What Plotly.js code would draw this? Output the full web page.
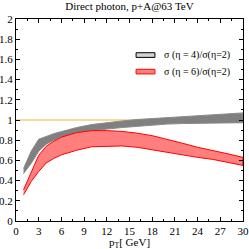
<!DOCTYPE html>
<html><head><meta charset="utf-8">
<script src="https://cdn.plot.ly/plotly-3.0.1.min.js"></script>
<style>html,body{margin:0;padding:0;background:#fff}</style>
</head><body><div id="c" style="width:249px;height:249px"></div>
<script>
const pt        = [1, 2, 3, 4, 5, 6, 8, 10, 12, 14, 16, 18, 20, 22, 24, 26, 28, 30];
const grayUpper = [0.52, 0.69, 0.81, 0.84, 0.865, 0.885, 0.925, 0.955, 0.975, 0.99, 1.005, 1.015, 1.025, 1.03, 1.04, 1.05, 1.06, 1.07];
const grayLower = [0.47, 0.57, 0.69, 0.76, 0.80, 0.83, 0.87, 0.89, 0.91, 0.925, 0.94, 0.95, 0.96, 0.965, 0.967, 0.97, 0.972, 0.973];
const redUpper  = [0.31, 0.48, 0.65, 0.74, 0.79, 0.83, 0.875, 0.895, 0.895, 0.887, 0.87, 0.845, 0.81, 0.77, 0.73, 0.70, 0.665, 0.63];
const redLower  = [0.26, 0.39, 0.49, 0.575, 0.62, 0.655, 0.70, 0.735, 0.742, 0.743, 0.73, 0.71, 0.685, 0.655, 0.63, 0.61, 0.58, 0.55];
const refX = [0, 30];
const refY = [1, 1];
const names = ['σ (η = 4)/σ(η=2)', 'σ (η = 6)/σ(η=2)'];
const xTicks = [0, 3, 6, 9, 12, 15, 18, 21, 24, 27, 30];
const yTicks = [0, 0.2, 0.4, 0.6, 0.8, 1, 1.2, 1.4, 1.6, 1.8, 2];

function band(up, lo) {
  return {x: pt.concat(pt.slice().reverse()), y: up.concat(lo.slice().reverse())};
}
const g = band(grayUpper, grayLower);
const r = band(redUpper, redLower);

const traces = [
  {x: refX, y: refY, mode: 'lines', line: {color: '#f5b041', width: 1}, showlegend: false, hoverinfo: 'skip'},
  {x: g.x, y: g.y, fill: 'toself', mode: 'lines', fillcolor: '#808080', line: {color: '#8a8a8a', width: 1}, name: names[0], showlegend: false},
  {x: r.x, y: r.y, fill: 'toself', mode: 'lines', fillcolor: '#ff7f7f', line: {color: '#ff0000', width: 1}, name: names[1], showlegend: false}
];

const serif = 'Liberation Serif, Times New Roman, serif';
const axBase = {
  showgrid: false, zeroline: false, showline: true, linecolor: '#000', linewidth: 1,
  mirror: 'allticks', ticks: 'inside', ticklen: 4, tickcolor: '#000',
  tickfont: {family: serif, size: 11, color: '#000'}
};

// manual legend (paper coords)
const legendBoxes = [
  {x0: 0.529, x1: 0.612, y0: 0.810, y1: 0.833, fill: '#d3d3d3', line: '#000'},
  {x0: 0.529, x1: 0.612, y0: 0.728, y1: 0.751, fill: '#ff7f7f', line: '#ff0000'}
];
const shapes = legendBoxes.map(b => ({type: 'rect', xref: 'paper', yref: 'paper', x0: b.x0, x1: b.x1, y0: b.y0, y1: b.y1,
  fillcolor: b.fill, line: {color: b.line, width: 1}}));
const annotations = legendBoxes.map((b, i) => ({xref: 'paper', yref: 'paper', x: 0.642, y: (b.y0 + b.y1) / 2,
  xanchor: 'left', yanchor: 'middle', text: names[i], showarrow: false, font: {family: serif, size: 10, color: '#000'}}));
annotations.push({xref: 'paper', yref: 'paper', x: 0.5, y: 0, yshift: -14, xanchor: 'center', yanchor: 'top',
  text: 'p<sub>T</sub>[ GeV]', showarrow: false, borderpad: 0, font: {family: serif, size: 11, color: '#000'}});

const layout = {
  width: 249, height: 249,
  margin: {l: 16, r: 6, t: 19, b: 28},
  paper_bgcolor: '#fff', plot_bgcolor: '#fff',
  title: {text: 'Direct photon, p+A@63 TeV', font: {family: serif, size: 11, color: '#000'}, x: 0.52, xanchor: 'center', y: 0.99, yanchor: 'top'},
  xaxis: Object.assign({}, axBase, {range: [0, 30], tickvals: xTicks, ticktext: xTicks.map(String),
    minor: {ticks: 'inside', ticklen: 2, tickcolor: '#000', dtick: 1.5}}),
  yaxis: Object.assign({}, axBase, {range: [0, 2], tickvals: yTicks, ticktext: yTicks.map(String),
    minor: {ticks: 'inside', ticklen: 2, tickcolor: '#000', dtick: 0.1}}),
  shapes: shapes,
  annotations: annotations,
  showlegend: false
};

Plotly.newPlot('c', traces, layout, {staticPlot: true, displayModeBar: false});
</script></body></html>
